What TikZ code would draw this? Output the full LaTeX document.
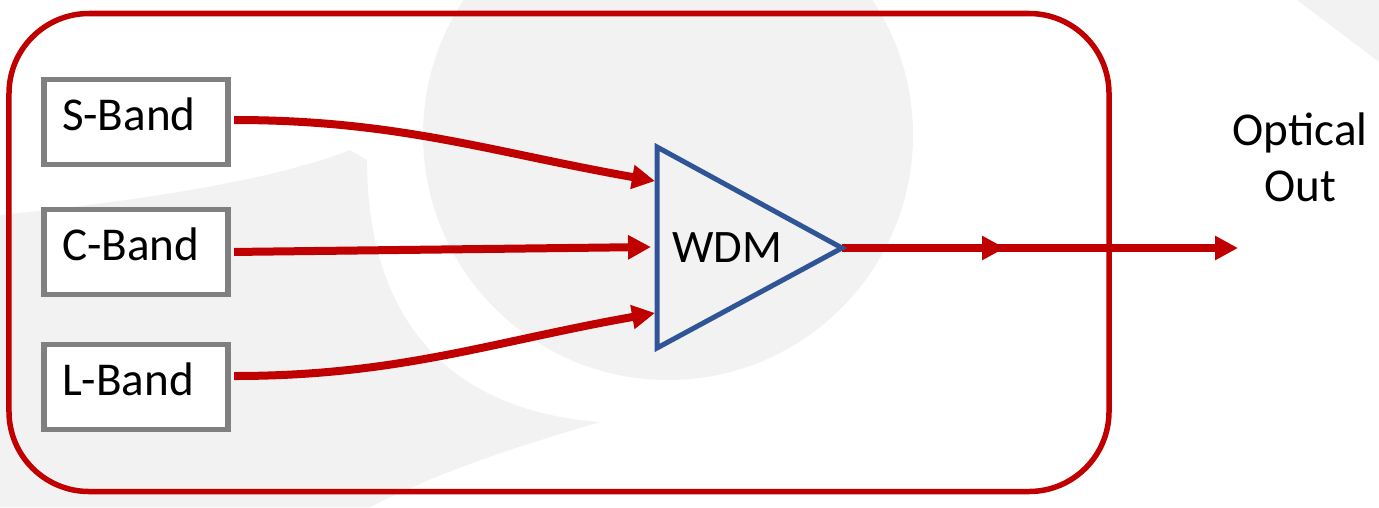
\documentclass[tikz,border=0pt]{standalone}
\usepackage{fontspec}
\setmainfont{Carlito}
\usetikzlibrary{arrows.meta}
\definecolor{bandred}{HTML}{C00000}
\definecolor{wdmblue}{HTML}{2F5597}
\definecolor{boxgray}{HTML}{808080}
\definecolor{wmgray}{HTML}{F2F2F2}
\newcommand{\bandfont}{\fontsize{26.8pt}{31.9pt}\selectfont}
\newcommand{\wdmfont}{\fontsize{26.5pt}{31pt}\selectfont}
\tikzset{
    bandbox/.style = {rectangle, line width=3pt, draw=boxgray, fill=white, text width=2.96cm, inner xsep=0.36cm, inner ysep=0pt, minimum height=1.70cm, text height=0.68cm, text depth=0.34cm, align=left, font=\bandfont},
    unitbox/.style = {rectangle, draw=bandred, line width=0.11cm, rounded corners=1.6cm, minimum width=22cm, minimum height=9.56cm, inner sep=0pt},
    edger/.style = {-{Triangle[length=0.46cm,width=0.46cm]}, line width=0.16cm, bandred},
    wdmline/.style = {draw=wdmblue, line width=0.1cm, line join=miter},
    wmark/.style = {fill=wmgray},
    outtext/.style = {align=center, inner sep=0pt, font=\bandfont}
}
\begin{document}
\begin{tikzpicture}[x=0.2mm, y=-0.2mm]
\useasboundingbox (0,0) rectangle (1379,507);
% watermark
\fill[wmark] (668,135) circle (245);
\fill[wmark] (0,215) .. controls (150,200) and (280,178) .. (350,150) -- (367,160)
  .. controls (367,310) and (440,410) .. (600,422)
  .. controls (520,446) and (450,467) .. (370,507) -- (0,507) -- cycle;
\fill[wmark] (1297,0) -- (1379,0) -- (1379,62) -- cycle;

\node[unitbox] (unit) at (559,252.5) {};

\node[bandbox] (sband) at (136,122) {S-Band};
\node[bandbox] (cband) at (136,252) {C-Band};
\node[bandbox] (lband) at (136,387) {L-Band};

\coordinate (wtop) at (657,147);
\coordinate (wapex) at (842,248);
\coordinate (wbot) at (657,348);
\coordinate (inS) at (655,181);
\coordinate (inC) at (651,247);
\coordinate (inL) at (655,313);
\coordinate (mid) at (1005,248);
\coordinate (out) at (1238,248);

\draw[edger, shorten <=2pt] ([yshift=0.04cm]sband.east) .. controls +(167,0) and +(-164,-29) .. (inS);
\draw[edger, shorten <=2pt] (cband.east) -- (inC);
\draw[edger, shorten <=2pt] ([yshift=0.22cm]lband.east) .. controls +(167,0) and +(-164,29) .. (inL);
\draw[edger] (wapex) -- (mid);
\draw[edger] ([xshift=-0.3cm]mid) -- (out);

\draw[wdmline] (wtop) -- (wapex) -- (wbot) -- cycle;
\node[font=\wdmfont, inner sep=0pt] (wdm) at (727,248) {WDM};

\node[outtext] (optout) at (1300,157) {Optical\\Out};

\end{tikzpicture}
\end{document}
